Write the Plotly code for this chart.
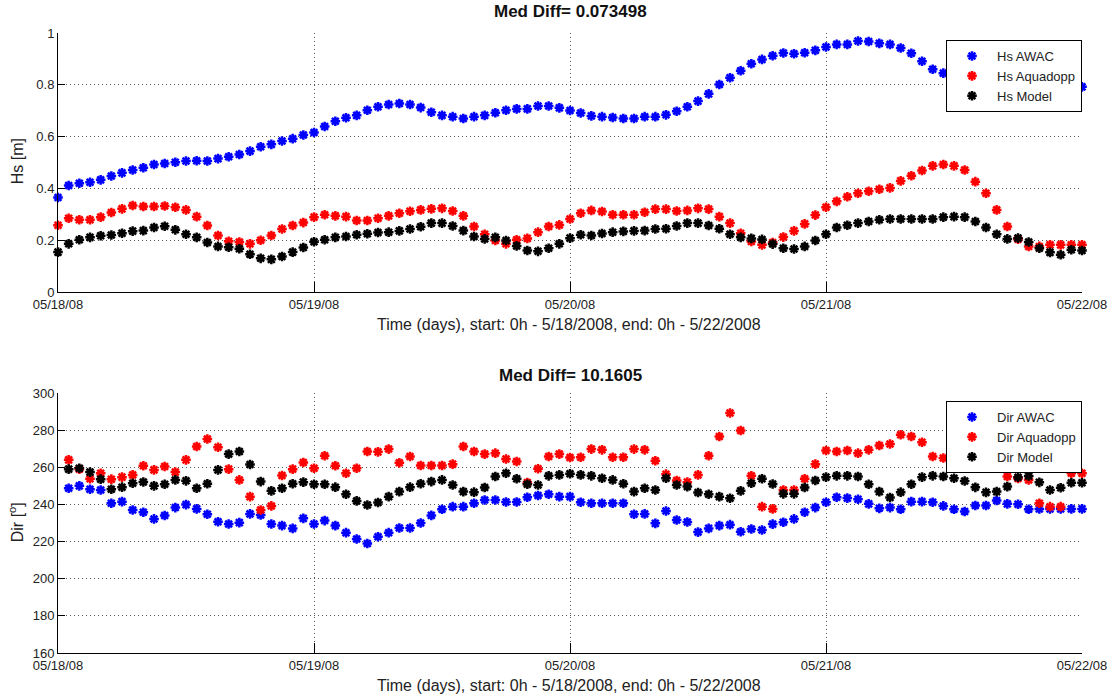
import pandas as pd
import plotly.graph_objects as go

# ---------------- data ----------------
hs_awac = [0.365, 0.411, 0.420, 0.424, 0.433, 0.448, 0.460, 0.471, 0.480, 0.492,
           0.496, 0.501, 0.506, 0.507, 0.506, 0.515, 0.522, 0.531, 0.544, 0.561,
           0.570, 0.583, 0.592, 0.606, 0.616, 0.639, 0.659, 0.673, 0.682, 0.702,
           0.715, 0.724, 0.728, 0.724, 0.712, 0.694, 0.682, 0.677, 0.670, 0.677,
           0.682, 0.692, 0.702, 0.707, 0.707, 0.718, 0.718, 0.711, 0.701, 0.691,
           0.680, 0.677, 0.674, 0.670, 0.670, 0.677, 0.677, 0.684, 0.698, 0.715,
           0.737, 0.765, 0.801, 0.827, 0.854, 0.881, 0.898, 0.912, 0.923, 0.920,
           0.924, 0.933, 0.946, 0.956, 0.956, 0.969, 0.967, 0.960, 0.956, 0.942,
           0.922, 0.891, 0.860, 0.845, 0.830, 0.820, 0.810, 0.800, 0.800, 0.795,
           0.790, 0.790, 0.790, 0.790, 0.790, 0.790, 0.792]
hs_aquadopp = [0.258, 0.285, 0.279, 0.279, 0.289, 0.307, 0.321, 0.334, 0.330, 0.330,
               0.332, 0.327, 0.317, 0.291, 0.257, 0.218, 0.196, 0.193, 0.186, 0.200,
               0.218, 0.243, 0.257, 0.268, 0.289, 0.298, 0.294, 0.291, 0.276, 0.276,
               0.285, 0.294, 0.304, 0.312, 0.317, 0.321, 0.323, 0.313, 0.294, 0.253,
               0.223, 0.199, 0.186, 0.202, 0.207, 0.231, 0.253, 0.259, 0.282, 0.304,
               0.315, 0.311, 0.298, 0.298, 0.298, 0.308, 0.320, 0.320, 0.313, 0.315,
               0.323, 0.320, 0.291, 0.266, 0.227, 0.195, 0.182, 0.191, 0.212, 0.236,
               0.263, 0.297, 0.327, 0.350, 0.368, 0.381, 0.389, 0.397, 0.402, 0.429,
               0.449, 0.469, 0.487, 0.492, 0.487, 0.471, 0.426, 0.381, 0.317, 0.253,
               0.204, 0.176, 0.176, 0.182, 0.182, 0.182, 0.182]
hs_model = [0.154, 0.186, 0.202, 0.211, 0.217, 0.220, 0.227, 0.235, 0.237, 0.249,
            0.254, 0.240, 0.223, 0.211, 0.191, 0.176, 0.173, 0.167, 0.146, 0.130,
            0.126, 0.137, 0.154, 0.172, 0.194, 0.202, 0.211, 0.214, 0.221, 0.225,
            0.230, 0.231, 0.236, 0.243, 0.252, 0.266, 0.266, 0.255, 0.237, 0.214,
            0.205, 0.211, 0.199, 0.178, 0.160, 0.157, 0.169, 0.186, 0.208, 0.221,
            0.218, 0.226, 0.231, 0.234, 0.236, 0.237, 0.243, 0.244, 0.255, 0.266,
            0.266, 0.257, 0.244, 0.223, 0.211, 0.207, 0.203, 0.185, 0.169, 0.166,
            0.176, 0.199, 0.223, 0.249, 0.258, 0.266, 0.272, 0.279, 0.282, 0.282,
            0.282, 0.282, 0.282, 0.289, 0.291, 0.289, 0.272, 0.249, 0.223, 0.205,
            0.208, 0.193, 0.169, 0.153, 0.144, 0.163, 0.160]

dir_awac = [248.7, 250.0, 248.2, 247.8, 240.6, 241.5, 237.0, 235.8, 232.2,
            234.0, 238.3, 239.9, 237.6, 234.7, 230.7, 229.5, 230.2, 234.9, 234.3,
            229.5, 228.6, 227.1, 232.5, 229.5, 231.3, 228.6, 224.8, 221.4, 219.0,
            222.6, 224.8, 227.3, 227.3, 230.0, 234.1, 237.4, 238.8, 238.8, 240.6,
            242.4, 242.4, 241.3, 241.3, 243.9, 244.8, 245.5, 244.2, 244.2, 241.2,
            240.6, 240.6, 240.6, 240.6, 234.7, 234.9, 229.8, 236.5, 231.6, 230.5,
            225.1, 227.1, 228.6, 229.1, 225.3, 226.8, 226.2, 229.4, 230.4, 232.2,
            235.8, 238.3, 241.2, 243.9, 243.4, 242.8, 240.3, 237.9, 238.3, 237.4,
            241.5, 241.5, 241.2, 239.2, 237.4, 236.2, 239.4, 239.4, 242.1, 240.3,
            240.1, 237.4, 237.6, 237.6, 237.6, 237.6, 237.6]
dir_aquadopp = [264.0, 259.0, 253.8, 256.8, 253.6, 254.7, 255.9, 260.8, 258.6,
                260.4, 257.4, 264.0, 271.2, 275.2, 270.8, 259.0, 253.2, 244.2, 237.0,
                239.2, 255.6, 259.0, 262.6, 259.5, 266.2, 260.8, 256.8, 259.5, 268.5,
                268.3, 269.8, 262.4, 265.8, 261.0, 261.0, 261.0, 261.7, 271.2, 268.5,
                267.1, 267.6, 264.5, 263.1, 251.8, 259.2, 265.8, 267.1, 265.3, 265.4,
                269.8, 269.4, 265.4, 265.4, 269.8, 269.4, 263.5, 256.3, 252.9, 252.0,
                255.9, 266.2, 276.6, 289.2, 279.8, 255.4, 238.8, 237.6, 247.8, 247.8,
                253.8, 261.7, 269.0, 268.5, 269.0, 267.6, 269.4, 271.7, 272.5, 277.5,
                276.6, 273.5, 265.8, 265.0, 266.0, 265.0, 264.0, 262.2, 260.9, 255.0,
                254.0, 253.2, 240.6, 238.8, 238.8, 256.8, 256.8]
dir_model = [259.0, 259.5, 257.4, 253.6, 248.2, 249.3, 251.4, 252.1, 250.0,
             250.9, 253.2, 252.7, 248.7, 251.1, 258.6, 267.1, 268.5, 261.5, 252.3,
             247.3, 248.7, 251.1, 252.0, 250.9, 250.9, 249.3, 245.5, 241.9, 239.7,
             241.0, 244.2, 246.9, 249.3, 251.1, 252.3, 253.2, 250.5, 246.9, 246.6,
             249.1, 255.0, 256.8, 253.8, 250.9, 250.5, 255.4, 255.9, 256.5, 255.9,
             255.4, 254.1, 253.2, 251.1, 246.9, 248.7, 247.8, 254.1, 250.5, 249.6,
             246.4, 245.5, 244.2, 243.3, 247.3, 251.4, 253.8, 251.0, 245.7, 245.7,
             249.1, 252.9, 254.7, 255.4, 255.4, 255.0, 250.9, 246.9, 243.7, 246.6,
             250.9, 254.7, 255.4, 255.0, 254.1, 252.6, 249.2, 246.5, 246.9, 249.6,
             254.6, 255.3, 251.9, 247.8, 249.0, 251.7, 251.7]

hs_time = pd.date_range("2008-05-18 00:00", periods=len(hs_awac), freq="h")
dir_time = pd.date_range("2008-05-18 01:00", periods=len(dir_awac), freq="h")

series_colors = {"AWAC": "#0000ff", "Aquadopp": "#ff0000", "Model": "#000000"}
hs_title = "Med Diff= 0.073498"
dir_title = "Med Diff= 10.1605"
xlabel = "Time (days), start: 0h - 5/18/2008, end: 0h - 5/22/2008"

# ---------------- figure ----------------
FONT = "Liberation Sans, Arial, Helvetica, sans-serif"
fig = go.Figure()

def add(x, y, name, color, xa, ya, legend):
    fig.add_trace(go.Scatter(
        x=x, y=y, name=name, mode="markers", xaxis=xa, yaxis=ya, legend=legend,
        cliponaxis=False,
        marker=dict(symbol="asterisk-open", size=8, color=color,
                    line=dict(color=color, width=2.5)),
    ))

add(hs_time, hs_awac, "Hs AWAC", series_colors["AWAC"], "x", "y", "legend")
add(hs_time, hs_aquadopp, "Hs Aquadopp", series_colors["Aquadopp"], "x", "y", "legend")
add(hs_time, hs_model, "Hs Model", series_colors["Model"], "x", "y", "legend")
add(dir_time, dir_awac, "Dir AWAC", series_colors["AWAC"], "x2", "y2", "legend2")
add(dir_time, dir_aquadopp, "Dir Aquadopp", series_colors["Aquadopp"], "x2", "y2", "legend2")
add(dir_time, dir_model, "Dir Model", series_colors["Model"], "x2", "y2", "legend2")

W, H = 1119, 698
ml, mr, mt, mb = 58, 31, 33, 45
pw, ph = W - ml - mr, H - mt - mb

def py(px):  # pixel y -> paper y
    return (H - mb - px) / ph

def pxx(px):  # pixel x -> paper x
    return (px - ml) / pw

grid = dict(showgrid=True, gridcolor="#555555", griddash="1px,3px", gridwidth=1)
xcommon = dict(type="date", range=["2008-05-18", "2008-05-22"], dtick=86400000,
               tick0="2008-05-18", tickformat="%m/%d/%y", ticks="inside", ticklen=10,
               tickcolor="#000", showline=True, linecolor="#000", linewidth=1,
               tickfont=dict(size=13, color="#222"), zeroline=False, **grid)
ycommon = dict(ticks="inside", ticklen=7, tickcolor="#000", showline=True,
               linecolor="#000", linewidth=1, zeroline=False,
               tickfont=dict(size=13, color="#222"), **grid)

legend_style = dict(xanchor="right", yanchor="top", bordercolor="#000", borderwidth=1,
                    bgcolor="white", font=dict(size=13, color="#222"),
                    itemwidth=40, tracegroupgap=0)

fig.update_layout(
    width=W, height=H,
    margin=dict(l=ml, r=mr, t=mt, b=mb),
    paper_bgcolor="white", plot_bgcolor="white",
    font=dict(family=FONT, color="#222"),
    xaxis=dict(domain=[0, 1], anchor="y", **xcommon),
    yaxis=dict(domain=[py(292), 1], anchor="x", range=[0, 1], dtick=0.2,
               tickformat="~g", **ycommon),
    xaxis2=dict(domain=[0, 1], anchor="y2", **xcommon),
    yaxis2=dict(domain=[0, py(393)], anchor="x2", range=[160, 300], dtick=20, **ycommon),
    legend=dict(x=pxx(1088), y=py(40), **legend_style),
    legend2=dict(x=pxx(1088), y=py(401), **legend_style),
    annotations=[
        dict(text="<b>" + hs_title + "</b>", x=0.5, y=py(12), xref="paper", yref="paper",
             showarrow=False, font=dict(size=17, color="#111"), yanchor="middle"),
        dict(text="<b>" + dir_title + "</b>", x=0.5, y=py(375), xref="paper", yref="paper",
             showarrow=False, font=dict(size=17, color="#111"), yanchor="middle"),
        dict(text=xlabel, x=pxx(572), y=py(324), xref="paper", yref="paper",
             showarrow=False, font=dict(size=16, color="#222"), yanchor="middle"),
        dict(text=xlabel, x=pxx(572), y=py(685), xref="paper", yref="paper",
             showarrow=False, font=dict(size=16, color="#222"), yanchor="middle"),
        dict(text="Hs [m]", x=pxx(17.5), y=py(161.5), xref="paper", yref="paper",
             showarrow=False, textangle=-90, font=dict(size=16, color="#222"),
             xanchor="center", yanchor="middle"),
        dict(text="Dir [<sup>o</sup>]", x=pxx(16), y=py(522), xref="paper", yref="paper",
             showarrow=False, textangle=-90, font=dict(size=16, color="#222"),
             xanchor="center", yanchor="middle"),
    ],
)

fig.write_html("out.html")
